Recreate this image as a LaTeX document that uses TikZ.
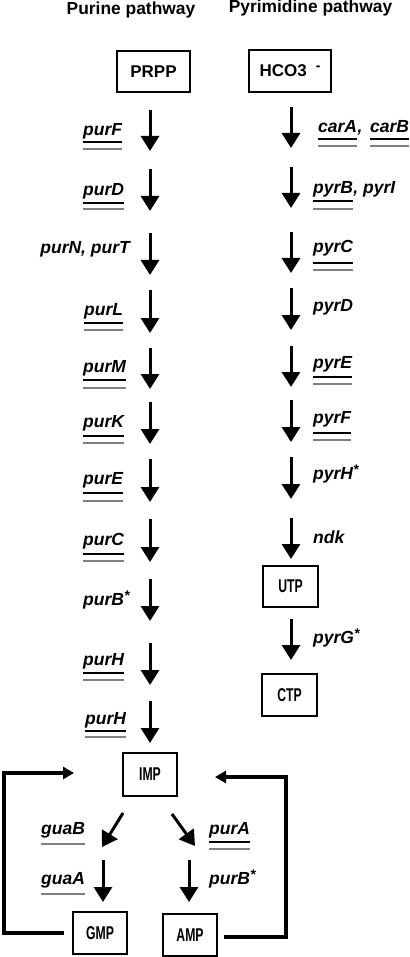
\documentclass[tikz,border=0pt]{standalone}
\usepackage{fontspec}
\setmainfont{Liberation Sans}
\usepackage{graphicx}
\usetikzlibrary{arrows.meta}
\newcommand\gdul[3]{%
  \draw[ulb] (#1.west |- 0,#2) -- (#1.east |- 0,#2);
  \draw[ulg] (#1.west |- 0,#3) -- (#1.east |- 0,#3);}
\newcommand\gsul[2]{\draw[ulg] (#1.west |- 0,#2) -- (#1.east |- 0,#2);}
\newcommand\gast{\raisebox{5pt}{\fontsize{14}{14}\selectfont *}}
\newcommand\cnd[1]{\scalebox{0.66}[1]{#1}}
\begin{document}
\begin{tikzpicture}[x=1pt,y=-1pt,
  title/.style={font=\fontsize{17.4}{20}\selectfont\bfseries, inner sep=0pt, anchor=base},
  gene/.style={font=\fontsize{17.5}{20}\selectfont\bfseries\itshape, inner sep=0pt, anchor=base west},
  box/.style={draw, line width=1.4pt, inner sep=0pt, font=\fontsize{17}{20}\selectfont\bfseries},
  cbox/.style={box, font=\fontsize{18.5}{20}\selectfont\bfseries},
  rxn/.style={line width=3pt, -{Triangle[width=18pt,length=15pt]}},
  fb/.style={line width=3.5pt, -{Triangle[width=12pt,length=11pt]}},
  ulb/.style={line width=2.2pt, black},
  ulg/.style={line width=2.2pt, color=black!50}]
\useasboundingbox (0,0) rectangle (409,957);

% titles
\node[title] (t1) at (131,14.5) {Purine pathway};
\node[title] (t2) at (310.5,13) {Pyrimidine pathway};

% boxes
\node[box, minimum width=73pt, minimum height=41pt] (PRPP) at (153.5,71.5) {PRPP};
\node[box, minimum width=82pt, minimum height=42pt] (HCO) at (290,71) {HCO3\hspace{9pt}\raisebox{6pt}{\fontsize{14}{14}\selectfont -}};
\node[cbox, minimum width=55pt, minimum height=41pt] (UTP) at (290.5,586.5) {\cnd{UTP}};
\node[cbox, minimum width=55pt, minimum height=42pt] (CTP) at (289.5,695) {\cnd{CTP}};
\node[cbox, minimum width=54pt, minimum height=43pt] (IMP) at (150,774.5) {\cnd{IMP}};
\node[cbox, minimum width=54pt, minimum height=42pt] (GMP) at (100,933) {\cnd{GMP}};
\node[cbox, minimum width=54pt, minimum height=42pt] (AMP) at (190,935) {\cnd{AMP}};

% purine arrows
\foreach \i/\s/\e in {1/110/151,2/169/211,3/233/275,4/290/333,5/348/389,6/402/444,7/459/502,8/519/562,9/579/621,10/643/685,11/701/743}{
  \coordinate (ls\i) at (150,\s);
  \coordinate (le\i) at (150,\e);
  \draw[rxn] (ls\i) -- (le\i);
}
% pyrimidine arrows
\foreach \i/\s/\e in {1/107/148,2/167/208,3/232/273,4/288/330,5/346/387,6/400/442,7/457/499,8/518/559,9/619/660}{
  \coordinate (rs\i) at (291,\s);
  \coordinate (re\i) at (291,\e);
  \draw[rxn] (rs\i) -- (re\i);
}

% purine labels
\node[gene] (purF) at (83,136) {purF}; \gdul{purF}{142}{149}
\node[gene] (purD) at (83,196) {purD}; \gdul{purD}{203}{209}
\node[gene, anchor=base east] (purNT) at (130,254) {purN, purT};
\node[gene] (purL) at (84,315) {purL}; \gdul{purL}{323}{330}
\node[gene] (purM) at (83,372) {purM}; \gdul{purM}{380}{388}
\node[gene] (purK) at (83,427) {purK}; \gdul{purK}{436}{443}
\node[gene] (purE) at (83,484) {purE}; \gdul{purE}{493}{501}
\node[gene] (purC) at (83,545) {purC}; \gdul{purC}{554}{561}
\node[gene] (purB) at (83,605) {purB\gast};
\node[gene] (purHa) at (83,665) {purH}; \gdul{purHa}{673}{680}
\node[gene] (purHb) at (85,724) {purH}; \gdul{purHb}{731}{737}

% pyrimidine labels
\node[gene] (carA) at (318,133) {carA};
\node[gene, anchor=base west] (cmA) at (carA.base east) {,};
\node[gene] (carB) at (370,133) {carB};
\gdul{carA}{139}{146} \gdul{carB}{139}{146}
\node[gene] (pyrB) at (313,194) {pyrB};
\node[gene, anchor=base west] (pyrI) at (pyrB.base east) {, pyrI};
\gdul{pyrB}{201}{209}
\node[gene] (pyrC) at (313,253) {pyrC}; \gdul{pyrC}{263}{270}
\node[gene] (pyrD) at (313,311) {pyrD};
\node[gene] (pyrE) at (313,368) {pyrE}; \gdul{pyrE}{377}{384}
\node[gene] (pyrF) at (313,423) {pyrF}; \gdul{pyrF}{433}{440}
\node[gene] (pyrH) at (313,479) {pyrH\gast};
\node[gene] (ndk) at (313,543) {ndk};
\node[gene] (pyrG) at (313,643) {pyrG\gast};

% bottom branch
\coordinate (dls) at (123,813); \coordinate (dle) at (102,847);
\coordinate (drs) at (172,814); \coordinate (dre) at (195,846);
\draw[rxn] (dls) -- (dle);
\draw[rxn] (drs) -- (dre);
\coordinate (gls) at (103,860); \coordinate (gle) at (103,902);
\coordinate (ars) at (189,860); \coordinate (are) at (189,902);
\draw[rxn] (gls) -- (gle);
\draw[rxn] (ars) -- (are);

\node[gene] (guaB) at (41,834) {guaB}; \gsul{guaB}{844}
\node[gene] (guaA) at (41,884) {guaA}; \gsul{guaA}{894}
\node[gene] (purA) at (209,834) {purA}; \gdul{purA}{842}{849}
\node[gene] (purB2) at (209,884) {purB\gast};

% feedback loops
\coordinate (fbLc) at (4,773);
\coordinate (fbLt) at (74,773);
\draw[fb] ([xshift=-8pt]GMP.west) -| (fbLc) -- (fbLt);
\coordinate (fbRc) at (286,777);
\coordinate (fbRt) at (215,777);
\draw[fb] ([xshift=6pt,yshift=-2pt]AMP.east) -| (fbRc) -- (fbRt);
\end{tikzpicture}
\end{document}
